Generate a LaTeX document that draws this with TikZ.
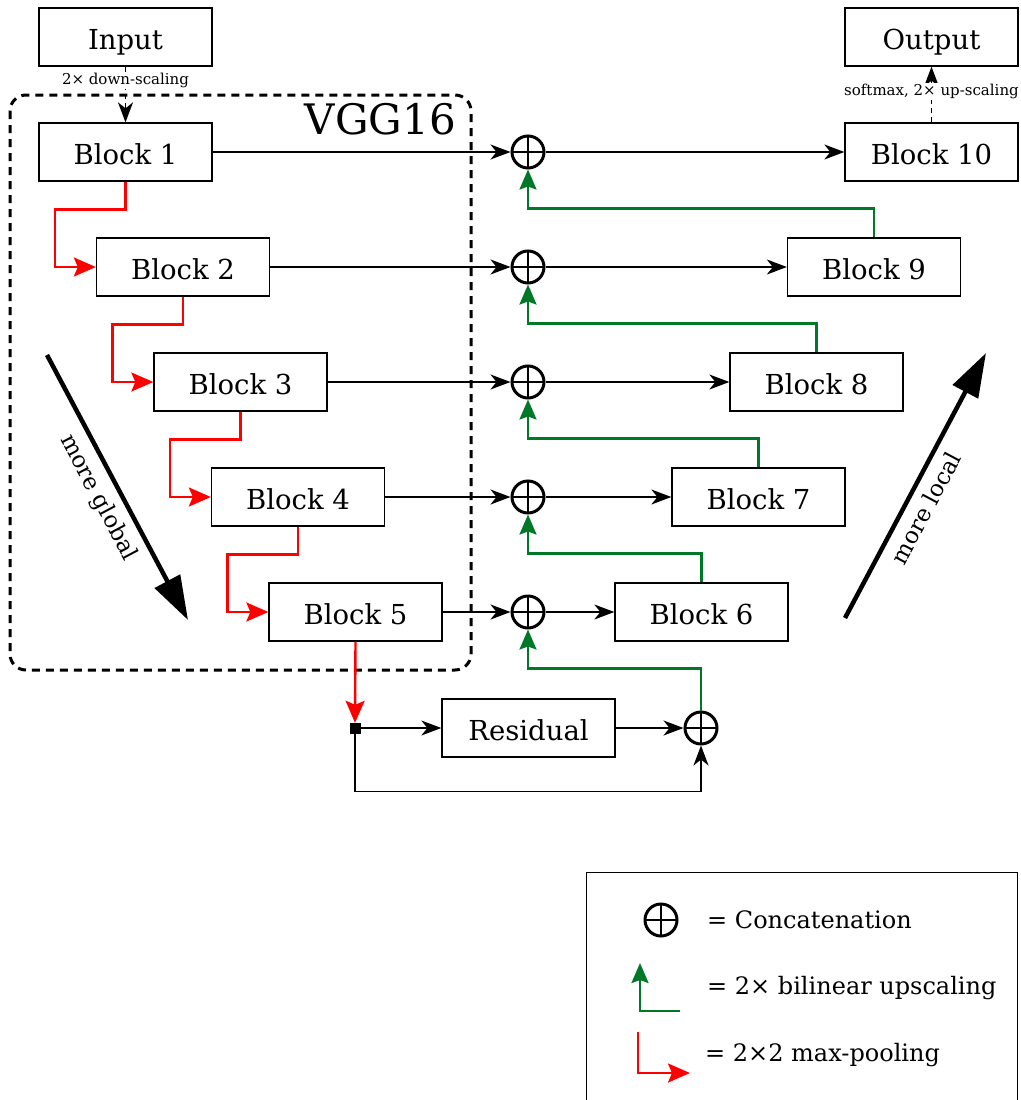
\documentclass[tikz,border=0pt]{standalone}
\usepackage{fontspec}
\setmainfont{DejaVu Serif}
\usetikzlibrary{arrows.meta,calc}
\definecolor{myred}{RGB}{255,0,0}
\definecolor{mygreen}{RGB}{0,120,40}
\begin{document}
\begin{tikzpicture}[x=1pt,y=-1pt,
  blk/.style={draw,line width=1.3pt,minimum width=173pt,minimum height=58pt,inner sep=0pt,text height=25pt,text depth=0pt,font=\fontsize{27.5}{31}\selectfont},
  concat/.style={circle,draw,line width=3pt,minimum size=32pt,inner sep=0pt,
    path picture={\draw[line width=2pt] (path picture bounding box.north)--(path picture bounding box.south) (path picture bounding box.west)--(path picture bounding box.east);}},
  arr/.style={-{Stealth[length=20pt,width=15pt,inset=6pt]},line width=1.4pt},
  redarr/.style={-{Stealth[length=22pt,width=19pt,inset=4pt]},line width=2.4pt,draw=myred,color=myred},
  grnarr/.style={-{Stealth[length=20pt,width=17pt,inset=3pt]},line width=2.4pt,draw=mygreen,color=mygreen},
  dasharr/.style={-{Stealth[length=20pt,width=15pt,inset=6pt]},line width=1.8pt,dash pattern=on 5pt off 4pt},
  small/.style={font=\fontsize{15}{17}\selectfont,fill=white,inner sep=1pt},
  bigarr/.style={-{Triangle[length=44pt,width=28pt]},line width=4.5pt},
  lbl/.style={font=\fontsize{24}{28}\selectfont,inner sep=0pt}
]
\useasboundingbox (0,0) rectangle (1020,1100);
% VGG container
\draw[line width=3pt,dash pattern=on 8pt off 6pt,rounded corners=16pt] (10,95) rectangle (471,670);
\node[anchor=north east,font=\fontsize{42}{46}\selectfont,inner sep=0pt] (vgg) at (456,103) {VGG16};
% blocks
\node[blk] (in) at (125.5,37) {Input};
\node[blk] (b1) at (125.5,152) {Block 1};
\node[blk] (b2) at (183,267) {Block 2};
\node[blk] (b3) at (240.5,382) {Block 3};
\node[blk] (b4) at (298,497) {Block 4};
\node[blk] (b5) at (355.5,612) {Block 5};
\node[blk] (b6) at (701.5,612) {Block 6};
\node[blk] (b7) at (758.5,497) {Block 7};
\node[blk] (b8) at (816.5,382) {Block 8};
\node[blk] (b9) at (874,267) {Block 9};
\node[blk] (b10) at (931.5,152) {Block 10};
\node[blk] (out) at (931.5,37) {Output};
\node[blk] (res) at (528.5,728) {Residual};
% concats
\node[concat] (c1) at (528,152) {};
\node[concat] (c2) at (528,267) {};
\node[concat] (c3) at (528,382) {};
\node[concat] (c4) at (528,497) {};
\node[concat] (c5) at (528,612) {};
\node[concat] (cr) at (701,728) {};
\node[draw,fill=black,minimum size=10pt,inner sep=0pt] (sq) at (355,728) {};
% input/output
\draw[dasharr] (in.south) -- node[small,pos=0.25] (ds) {2× down-scaling} (b1.north);
\draw[dasharr] (b10.north) -- node[small,pos=0.55] (us) {softmax, 2× up-scaling} (out.south);
% skip connections
\foreach \b/\c in {b1/c1,b2/c2,b3/c3,b4/c4,b5/c5}{\draw[arr] (\b.east) -- (\c.west);}
\draw[arr] (c1.east) -- (b10.west);
\draw[arr] (c2.east) -- (b9.west);
\draw[arr] (c3.east) -- (b8.west);
\draw[arr] (c4.east) -- (b7.west);
\draw[arr] (c5.east) -- (b6.west);
% pooling
\draw[redarr] (b1.south) -- ++(0,28) -| ([xshift=-41pt]b2.west) -- (b2.west);
\draw[redarr] (b2.south) -- ++(0,28) -| ([xshift=-41pt]b3.west) -- (b3.west);
\draw[redarr] (b3.south) -- ++(0,28) -| ([xshift=-41pt]b4.west) -- (b4.west);
\draw[redarr] (b4.south) -- ++(0,28) -| ([xshift=-41pt]b5.west) -- (b5.west);
\draw[redarr] (b5.south) -- (sq.north);
% upscaling
\draw[grnarr] (b9.north) -- ++(0,-29) -| (c1.south);
\draw[grnarr] (b8.north) -- ++(0,-29) -| (c2.south);
\draw[grnarr] (b7.north) -- ++(0,-29) -| (c3.south);
\draw[grnarr] (b6.north) -- ++(0,-29) -| (c4.south);
\draw[grnarr] (cr.north) -- ++(0,-42) -| (c5.south);
% residual
\draw[arr] (sq.east) -- (res.west);
\draw[arr] (res.east) -- (cr.west);
\draw[arr] (sq.south) -- ++(0,58) -| (cr.south);
% big arrows
\coordinate (g1) at (47,355);
\coordinate (g2) at (188,620);
\draw[bigarr] (g1) -- node[sloped,below=5pt,pos=0.5,font=\fontsize{23}{26}\selectfont] (mg) {more global} (g2);
\coordinate (l1) at (845,618);
\coordinate (l2) at (986,353);
\draw[bigarr] (l1) -- node[sloped,below=5pt,pos=0.45,font=\fontsize{23}{26}\selectfont] (ml) {more local} (l2);
% legend
\draw[line width=0.8pt] (586,1102) -- (586,872) -- (1017,872) -- (1017,1102);
\node[concat] (lc) at (661,920) {};
\node[lbl,anchor=west] (t1) at (707,920) {= Concatenation};
\coordinate (ga) at (680,1011);
\coordinate (gb) at (640,963);
\draw[grnarr] (ga) -| (gb);
\node[lbl,anchor=west] (t2) at (707,988) {= 2× bilinear upscaling};
\coordinate (ra) at (638,1032);
\coordinate (rb) at (690,1073);
\draw[redarr] (ra) |- (rb);
\node[lbl,anchor=west] (t3) at (705,1055) {= 2×2 max-pooling};
\end{tikzpicture}
\end{document}
